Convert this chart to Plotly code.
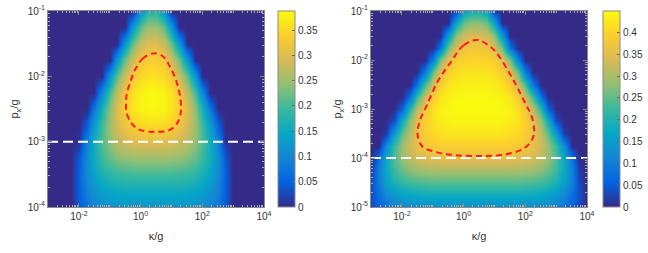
import math
import plotly.graph_objects as go

# ---------------- data ----------------
# all coordinates are log10 exponents of kappa/g and p_x/g
kappa_exp = [-3, -2.75, -2.5, -2.25, -2, -1.75, -1.5, -1.25, -1, -0.75, -0.5, -0.25, 0,
             0.25, 0.5, 0.75, 1, 1.25, 1.5, 1.75, 2, 2.25, 2.5, 2.75, 3, 3.25, 3.5, 3.75, 4]
p_exp_left = [-4, -3.75, -3.5, -3.25, -3, -2.75, -2.5, -2.25, -2, -1.75, -1.5, -1.25, -1]
p_exp_right = [-5, -4.75, -4.5, -4.25, -4, -3.75, -3.5, -3.25, -3, -2.75, -2.5, -2.25,
               -2, -1.75, -1.5, -1.25, -1]

# rows follow p_exp_left (bottom to top), columns follow kappa_exp
z_left = [
    [0, 0, 0, 0, .041, .074, .096, .108, .115, .118, .120, .120, .120, .120,
     .120, .120, .120, .120, .118, .115, .108, .096, .074, .041, 0, 0, 0, 0, 0],
    [0, 0, 0, 0, .048, .090, .118, .136, .146, .151, .154, .155, .155, .155,
     .155, .155, .155, .154, .151, .146, .136, .118, .090, .048, 0, 0, 0, 0, 0],
    [0, 0, 0, 0, .050, .104, .142, .167, .183, .192, .197, .199, .200, .200,
     .200, .200, .199, .197, .192, .183, .167, .142, .104, .050, 0, 0, 0, 0, 0],
    [0, 0, 0, 0, .041, .109, .159, .195, .219, .235, .244, .248, .250, .250,
     .250, .250, .248, .244, .235, .219, .195, .159, .109, .041, 0, 0, 0, 0, 0],
    [0, 0, 0, 0, .009, .092, .157, .207, .244, .269, .285, .295, .299, .300,
     .300, .299, .295, .285, .269, .244, .207, .157, .092, .009, 0, 0, 0, 0, 0],
    [0, 0, 0, 0, 0, .048, .130, .198, .251, .292, .322, .340, .351, .355,
     .355, .351, .340, .322, .292, .251, .198, .130, .048, 0, 0, 0, 0, 0, 0],
    [0, 0, 0, 0, 0, 0, .077, .169, .243, .299, .339, .365, .379, .385,
     .385, .379, .365, .339, .299, .243, .169, .077, 0, 0, 0, 0, 0, 0, 0],
    [0, 0, 0, 0, 0, 0, 0, .107, .202, .274, .326, .360, .378, .385,
     .385, .378, .360, .326, .274, .202, .107, 0, 0, 0, 0, 0, 0, 0, 0],
    [0, 0, 0, 0, 0, 0, 0, 0, .121, .216, .283, .327, .351, .359,
     .359, .351, .327, .283, .216, .121, 0, 0, 0, 0, 0, 0, 0, 0, 0],
    [0, 0, 0, 0, 0, 0, 0, 0, 0, .127, .224, .287, .322, .334,
     .334, .322, .287, .224, .127, 0, 0, 0, 0, 0, 0, 0, 0, 0, 0],
    [0, 0, 0, 0, 0, 0, 0, 0, 0, 0, .127, .225, .279, .299,
     .299, .279, .225, .127, 0, 0, 0, 0, 0, 0, 0, 0, 0, 0, 0],
    [0, 0, 0, 0, 0, 0, 0, 0, 0, 0, 0, .127, .216, .248,
     .248, .216, .127, 0, 0, 0, 0, 0, 0, 0, 0, 0, 0, 0, 0],
    [0, 0, 0, 0, 0, 0, 0, 0, 0, 0, 0, 0, .117, .176,
     .176, .117, 0, 0, 0, 0, 0, 0, 0, 0, 0, 0, 0, 0, 0],
]

# rows follow p_exp_right (bottom to top)
z_right = [
    [.035, .054, .084, .103, .115, .122, .127, .128, .130, .130, .130, .130, .130, .130,
     .130, .130, .130, .130, .130, .130, .128, .127, .122, .115, .103, .084, .054, .035, 0],
    [.035, .075, .116, .143, .160, .170, .175, .178, .180, .180, .180, .180, .180, .180,
     .180, .180, .180, .180, .180, .180, .178, .175, .170, .160, .143, .116, .075, .035, 0],
    [.030, .100, .155, .191, .213, .226, .234, .237, .240, .240, .240, .240, .240, .240,
     .240, .240, .240, .240, .240, .240, .237, .234, .226, .213, .191, .155, .100, .030, 0],
    [.015, .105, .176, .225, .257, .277, .288, .295, .298, .299, .300, .300, .300, .300,
     .300, .300, .300, .300, .299, .298, .295, .288, .277, .257, .225, .176, .105, .015, 0],
    [0, .076, .171, .239, .284, .315, .333, .344, .350, .353, .355, .355, .355, .355,
     .355, .355, .355, .355, .353, .350, .344, .333, .315, .284, .239, .171, .076, 0, 0],
    [0, 0, .123, .220, .287, .331, .358, .375, .383, .388, .389, .390, .390, .390,
     .390, .390, .390, .389, .388, .383, .375, .358, .331, .287, .220, .123, 0, 0, 0],
    [0, 0, .017, .152, .249, .316, .361, .389, .405, .414, .418, .420, .420, .420,
     .420, .420, .420, .418, .414, .405, .389, .361, .316, .249, .152, .017, 0, 0, 0],
    [0, 0, 0, .033, .180, .283, .351, .393, .418, .431, .437, .440, .440, .440,
     .440, .440, .440, .437, .431, .418, .393, .351, .283, .180, .033, 0, 0, 0, 0],
    [0, 0, 0, 0, .058, .209, .311, .375, .414, .435, .444, .448, .449, .449,
     .449, .449, .448, .444, .435, .414, .375, .311, .209, .058, 0, 0, 0, 0, 0],
    [0, 0, 0, 0, 0, .075, .226, .325, .386, .419, .436, .443, .445, .445,
     .445, .445, .443, .436, .419, .386, .325, .226, .075, 0, 0, 0, 0, 0, 0],
    [0, 0, 0, 0, 0, 0, .085, .238, .334, .390, .418, .431, .434, .435,
     .435, .434, .431, .418, .390, .334, .238, .085, 0, 0, 0, 0, 0, 0, 0],
    [0, 0, 0, 0, 0, 0, 0, .093, .252, .345, .392, .413, .419, .420,
     .420, .419, .413, .392, .345, .252, .093, 0, 0, 0, 0, 0, 0, 0, 0],
    [0, 0, 0, 0, 0, 0, 0, 0, .102, .266, .351, .387, .398, .400,
     .400, .398, .387, .351, .266, .102, 0, 0, 0, 0, 0, 0, 0, 0, 0],
    [0, 0, 0, 0, 0, 0, 0, 0, 0, .080, .259, .341, .370, .375,
     .375, .370, .341, .259, .080, 0, 0, 0, 0, 0, 0, 0, 0, 0, 0],
    [0, 0, 0, 0, 0, 0, 0, 0, 0, 0, .148, .281, .330, .340,
     .340, .330, .281, .148, 0, 0, 0, 0, 0, 0, 0, 0, 0, 0, 0],
    [0, 0, 0, 0, 0, 0, 0, 0, 0, 0, 0, .169, .256, .279,
     .279, .256, .169, 0, 0, 0, 0, 0, 0, 0, 0, 0, 0, 0, 0],
    [0, 0, 0, 0, 0, 0, 0, 0, 0, 0, 0, .021, .154, .189,
     .189, .154, .021, 0, 0, 0, 0, 0, 0, 0, 0, 0, 0, 0, 0],
]

zmax_left = 0.388
zmax_right = 0.449

# red dashed contour (log10 kappa, log10 p)
contour_left_kexp = [0.46, 0.09, -0.18, -0.34, -0.44, -0.47, -0.45, -0.29, -0.02, 0.46,
                     0.95, 1.22, 1.31, 1.28, 1.15, 0.95, 0.74, 0.46]
contour_left_pexp = [-1.645, -1.72, -1.90, -2.10, -2.25, -2.36, -2.56, -2.72, -2.82, -2.85,
                     -2.82, -2.69, -2.52, -2.31, -2.06, -1.85, -1.70, -1.645]
contour_right_kexp = [0.44, 0.0, -0.40, -0.84, -1.18, -1.43, -1.49, -1.33, -0.95, -0.30,
                      0.46, 1.32, 1.97, 2.24, 2.29, 2.19, 2.02, 1.64, 1.11, 0.85, 0.44]
contour_right_pexp = [-1.59, -1.70, -2.03, -2.44, -2.91, -3.26, -3.53, -3.77, -3.87, -3.94,
                      -3.96, -3.93, -3.80, -3.60, -3.43, -3.12, -2.91, -2.44, -1.89, -1.72, -1.59]

# white dashed threshold lines (log10 p)
threshold_left = -3
threshold_right = -4

x_range = [-3, 4]
y_range_left = [-4, -1]
y_range_right = [-5, -1]
x_tickvals = [-2, 0, 2, 4]
x_ticktext = ["10<sup>-2</sup>", "10<sup>0</sup>", "10<sup>2</sup>", "10<sup>4</sup>"]
y_tickvals_left = [-4, -3, -2, -1]
y_ticktext_left = ["10<sup>-4</sup>", "10<sup>-3</sup>", "10<sup>-2</sup>", "10<sup>-1</sup>"]
y_tickvals_right = [-5, -4, -3, -2, -1]
y_ticktext_right = ["10<sup>-5</sup>", "10<sup>-4</sup>", "10<sup>-3</sup>", "10<sup>-2</sup>",
                    "10<sup>-1</sup>"]
cbar_ticks_left = [0, 0.05, 0.1, 0.15, 0.2, 0.25, 0.3, 0.35]
cbar_ticks_right = [0, 0.05, 0.1, 0.15, 0.2, 0.25, 0.3, 0.35, 0.4]
cbar_text_left = ["0", "0.05", "0.1", "0.15", "0.2", "0.25", "0.3", "0.35"]
cbar_text_right = ["0", "0.05", "0.1", "0.15", "0.2", "0.25", "0.3", "0.35", "0.4"]


def minor_log_ticks(lo, hi, major):
    vals = [n + math.log10(m) for n in range(lo, hi) for m in range(1, 10)]
    return [v for v in vals if v not in major and lo < v < hi]


# ---------------- styling ----------------
W, H = 648, 253
MR = 40                      # right margin reserved for the colorbar labels
PW = W - MR                  # plot-area width in px
FONT = "Liberation Sans, Arial, Helvetica, sans-serif"
TXT = "#333333"
AXC = "#8a8a8a"
parula = [[0.0, "#352a87"], [0.125, "#0363e1"], [0.25, "#1485d4"], [0.375, "#06a7c6"],
          [0.5, "#38b99e"], [0.625, "#92bf73"], [0.75, "#d9ba56"], [0.875, "#fcce2e"],
          [1.0, "#f9fb0e"]]

y_dom = [1 - 207 / H, 1 - 11 / H]
x_dom_left = [48 / PW, 264 / PW]
x_dom_right = [371 / PW, 587 / PW]

fig = go.Figure()


def add_panel(z, pexp, zmax, cb_x, cb_ticks, cb_text, xa, ya, ckx, cpy, thr):
    fig.add_trace(go.Heatmap(
        x=kappa_exp, y=pexp, z=z, zmin=0, zmax=zmax, zsmooth="best",
        colorscale=parula, xaxis=xa, yaxis=ya, hoverinfo="skip",
        colorbar=dict(x=cb_x, xanchor="left", xpad=0, ypad=0,
                      y=(y_dom[0] + y_dom[1]) / 2, yanchor="middle",
                      len=y_dom[1] - y_dom[0], lenmode="fraction",
                      thickness=17, thicknessmode="pixels",
                      outlinewidth=1, outlinecolor=AXC,
                      tickvals=cb_ticks, ticktext=cb_text, ticks="inside", ticklen=3,
                      tickcolor="#666666", tickfont=dict(size=10, color=TXT, family=FONT)),
    ))
    fig.add_trace(go.Scatter(
        x=x_range, y=[thr, thr], mode="lines",
        line=dict(color="white", width=2, dash="10px,5px"),
        xaxis=xa, yaxis=ya, showlegend=False, hoverinfo="skip"))
    fig.add_trace(go.Scatter(
        x=ckx, y=cpy, mode="lines",
        line=dict(color="#ff1a1a", width=2, dash="6px,4px", shape="spline", smoothing=1.0),
        xaxis=xa, yaxis=ya, showlegend=False, hoverinfo="skip"))


add_panel(z_left, p_exp_left, zmax_left, 278 / PW, cbar_ticks_left, cbar_text_left,
          "x", "y", contour_left_kexp, contour_left_pexp, threshold_left)
add_panel(z_right, p_exp_right, zmax_right, 603 / PW, cbar_ticks_right, cbar_text_right,
          "x2", "y2", contour_right_kexp, contour_right_pexp, threshold_right)

common = dict(type="linear", showgrid=False, zeroline=False, showline=True, linecolor=AXC,
              linewidth=1, mirror="allticks", ticks="inside", ticklen=4, tickcolor=AXC,
              tickfont=dict(size=10, color=TXT, family=FONT), tickmode="array")

xtitle = dict(text="κ/g", font=dict(size=11, color=TXT, family=FONT), standoff=11)
ytitle = dict(text="p<sub>x</sub>/g", font=dict(size=11, color=TXT, family=FONT), standoff=6)


def minor(lo, hi, major):
    return dict(tickmode="array", tickvals=minor_log_ticks(lo, hi, major), ticks="inside",
                ticklen=2, tickcolor="#aaaaaa", showgrid=False)


fig.update_layout(
    width=W, height=H, margin=dict(l=0, r=MR, t=0, b=0, autoexpand=False),
    paper_bgcolor="white", plot_bgcolor="white", showlegend=False,
    font=dict(family=FONT, size=10, color=TXT),
    xaxis=dict(common, domain=x_dom_left, range=x_range, anchor="y",
               tickvals=x_tickvals, ticktext=x_ticktext, title=xtitle,
               minor=minor(-3, 4, x_tickvals)),
    yaxis=dict(common, domain=y_dom, range=y_range_left, anchor="x",
               tickvals=y_tickvals_left, ticktext=y_ticktext_left, title=ytitle,
               minor=minor(-4, -1, y_tickvals_left)),
    xaxis2=dict(common, domain=x_dom_right, range=x_range, anchor="y2",
                tickvals=x_tickvals, ticktext=x_ticktext, title=xtitle,
                minor=minor(-3, 4, x_tickvals)),
    yaxis2=dict(common, domain=y_dom, range=y_range_right, anchor="x2",
                tickvals=y_tickvals_right, ticktext=y_ticktext_right, title=ytitle,
                minor=minor(-5, -1, y_tickvals_right)),
)

fig.write_html("out.html", config={"displayModeBar": False},
               post_script="document.body.style.margin='0px';")
